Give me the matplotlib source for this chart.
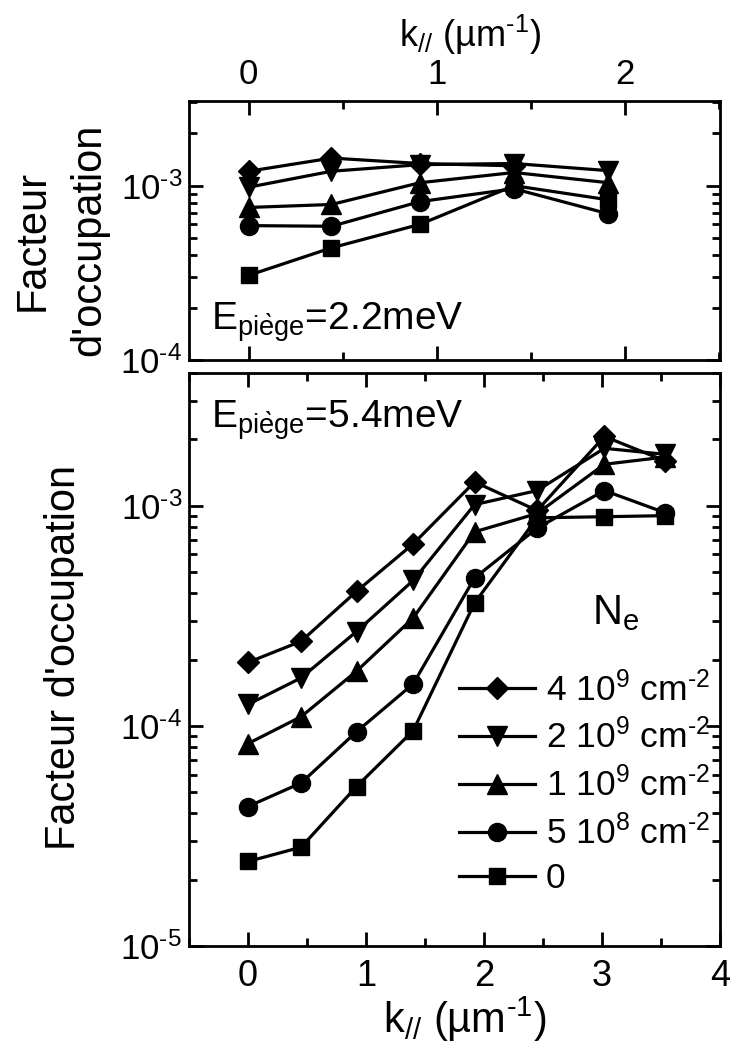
import matplotlib
matplotlib.use("Agg")
import matplotlib.pyplot as plt
from matplotlib.ticker import LogLocator, NullFormatter, MultipleLocator, FuncFormatter
import numpy as np

plt.rcParams['font.family'] = ['Liberation Sans', 'DejaVu Sans']
plt.rcParams['mathtext.fontset'] = 'custom'
plt.rcParams['mathtext.rm'] = 'Liberation Sans'
plt.rcParams['mathtext.it'] = 'Liberation Sans'
plt.rcParams['mathtext.default'] = 'regular'

# ---- data: top panel (E_piege = 2.2 meV) ----
k_top = [0, 0.44, 0.91, 1.41, 1.91]
top_4e9 = [1.21e-3, 1.44e-3, 1.34e-3, 1.30e-3]
top_2e9 = [9.8e-4, 1.21e-3, 1.32e-3, 1.34e-3, 1.22e-3]
top_1e9 = [7.5e-4, 7.8e-4, 1.04e-3, 1.19e-3, 1.04e-3]
top_5e8 = [5.9e-4, 5.85e-4, 8.1e-4, 9.6e-4, 6.9e-4]
top_0 = [3.06e-4, 4.4e-4, 6.0e-4, 1.0e-3, 8.3e-4]

# ---- data: bottom panel (E_piege = 5.4 meV) ----
k_bot = [0, 0.45, 0.92, 1.40, 1.92, 2.45, 3.02, 3.53]
bot_4e9 = [1.94e-4, 2.42e-4, 4.08e-4, 6.7e-4, 1.28e-3, 9.5e-4, 2.06e-3, 1.6e-3]
bot_2e9 = [1.25e-4, 1.65e-4, 2.68e-4, 4.57e-4, 1.01e-3, 1.17e-3, 1.82e-3, 1.71e-3]
bot_1e9 = [8.3e-5, 1.10e-4, 1.77e-4, 3.09e-4, 7.6e-4, 9.2e-4, 1.54e-3, 1.66e-3]
bot_5e8 = [4.3e-5, 5.5e-5, 9.4e-5, 1.55e-4, 4.69e-4, 7.9e-4, 1.17e-3, 9.3e-4]
bot_0 = [2.42e-5, 2.81e-5, 5.3e-5, 9.5e-5, 3.61e-4, 8.8e-4, 8.9e-4, 9.0e-4]

labels = [r'4 10$^{9}$ cm$^{\text{-}2}$', r'2 10$^{9}$ cm$^{\text{-}2}$', r'1 10$^{9}$ cm$^{\text{-}2}$',
          r'5 10$^{8}$ cm$^{\text{-}2}$', '0']
markers = ['D', 'v', '^', 'o', 's']
msizes = [11, 14, 14, 13, 12]

fig = plt.figure(figsize=(7.30, 10.51), dpi=100)
L, W = 189/730, 531/730
ax1 = fig.add_axes([L, 1-360/1051, W, 259/1051])
ax2 = fig.add_axes([L, 1-946/1051, W, 573/1051])

lw = 2.3
for ys, m, ms in zip([top_4e9, top_2e9, top_1e9, top_5e8, top_0], markers, msizes):
    ax1.plot(k_top[:len(ys)], ys, color='black', marker=m, markersize=ms, lw=lw)
for ys, m, ms, lab in zip([bot_4e9, bot_2e9, bot_1e9, bot_5e8, bot_0], markers, msizes, labels):
    ax2.plot(k_bot, ys, color='black', marker=m, markersize=ms, lw=lw, label=lab)


def logfmt(v, pos):
    e = int(round(np.log10(v)))
    s = r'\text{-}' if e < 0 else ''
    return r'10$^{%s%d}$' % (s, abs(e))


for ax in (ax1, ax2):
    ax.set_yscale('log')
    for s in ax.spines.values():
        s.set_linewidth(2.0)
    ax.yaxis.set_major_locator(LogLocator(base=10))
    ax.yaxis.set_major_formatter(FuncFormatter(logfmt))
    ax.yaxis.set_minor_locator(LogLocator(base=10, subs=range(2, 10)))
    ax.yaxis.set_minor_formatter(NullFormatter())
    ax.xaxis.set_major_locator(MultipleLocator(1))
    ax.xaxis.set_minor_locator(MultipleLocator(0.5))
    ax.tick_params(which='both', direction='in', top=True, right=True, width=2.0)
    ax.tick_params(which='major', length=10)
    ax.tick_params(which='minor', length=6)

# top panel
ax1.set_xlim(-0.317, 2.504)
ax1.set_ylim(1e-4, 3.06e-3)
ax1.tick_params(axis='x', labeltop=True, labelbottom=False, labelsize=25, pad=7)
ax1.tick_params(axis='y', labelsize=25, pad=5)
ax1.xaxis.set_label_position('top')
ax1.set_xlabel(r'k$_{//}$ (µm$^{\text{-}1}$)', fontsize=26, labelpad=4)
ax1.xaxis.set_label_coords(0.53, 1.21)
ax1.text(0.041, 0.06, r'E$_{pi\`{e}ge}$=2.2meV', transform=ax1.transAxes, fontsize=28,
         ha='left', va='bottom')

# bottom panel
ax2.set_xlim(-0.5, 4.0)
ax2.set_ylim(1e-5, 4.0e-3)
ax2.tick_params(axis='x', labelsize=26, pad=9)
ax2.tick_params(axis='y', labelsize=25, pad=5)
ax2.set_xlabel(r'k$_{//}$ (µm$^{\text{-}1}$)', fontsize=30, labelpad=2)
ax2.xaxis.set_label_coords(0.52, -0.085)
ax2.text(0.041, 0.955, r'E$_{pi\`{e}ge}$=5.4meV', transform=ax2.transAxes, fontsize=28,
         ha='left', va='top')
ax2.text(0.759, 0.581, r'N$_{e}$', transform=ax2.transAxes, fontsize=30, ha='left', va='center')

leg = ax2.legend(loc='upper left', bbox_to_anchor=(0.508, 0.48), frameon=False, fontsize=25.5,
                 handlelength=2.15, handletextpad=0.3, labelspacing=0.32, borderaxespad=0,
                 borderpad=0)

fig.text(61/730, 1-240/1051, "Facteur\nd'occupation", rotation=90, fontsize=30,
         ha='center', va='center', linespacing=1.55, multialignment='center')
fig.text(64/730, 1-657/1051, "Facteur d'occupation", rotation=90, fontsize=30,
         ha='center', va='center')

fig.savefig('out.png', dpi=100)
